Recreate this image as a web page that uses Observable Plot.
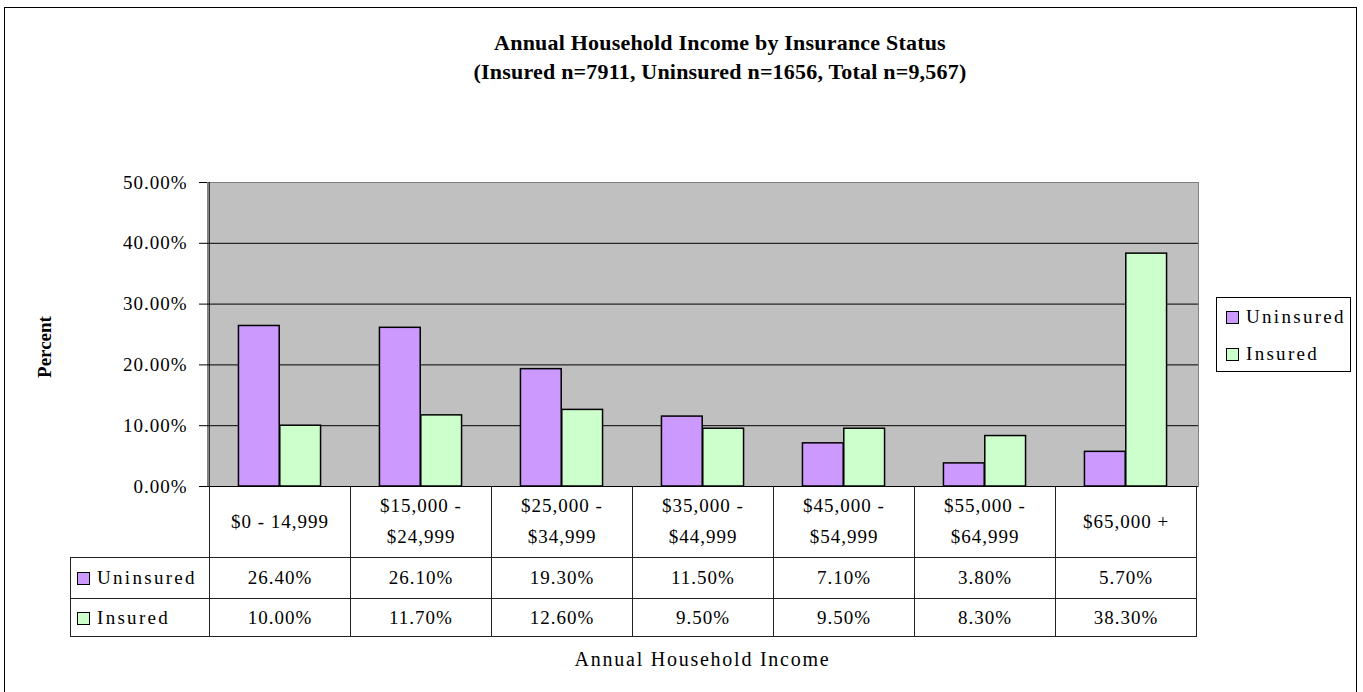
<!DOCTYPE html>
<html><head><meta charset="utf-8">
<script src="https://cdn.jsdelivr.net/npm/d3@7"></script>
<script src="https://cdn.jsdelivr.net/npm/@observablehq/plot@0.6"></script>
<style>
body{margin:0;background:#fff;overflow:hidden;}
#root{position:relative;width:1363px;height:692px;overflow:hidden;font-family:"Liberation Serif","Times New Roman",serif;color:#000;}
#outer{position:absolute;left:4px;top:7px;width:1353px;height:720px;border:1px solid #000;box-sizing:border-box;}
.title{position:absolute;left:220px;width:1000px;text-align:center;font-weight:bold;font-size:22px;line-height:26px;letter-spacing:0.2px;white-space:nowrap;}
#ylab{position:absolute;left:45px;top:347px;transform:translate(-50%,-50%) rotate(-90deg);font-weight:bold;font-size:19px;white-space:nowrap;}
#xlab{position:absolute;left:0;width:1405px;top:648px;text-align:center;font-size:20px;letter-spacing:1.75px;white-space:nowrap;}
#chart{position:absolute;left:0;top:0;}
table.dt{position:absolute;border-collapse:collapse;table-layout:fixed;font-size:19px;letter-spacing:1px;}
table.dt td{padding:0;text-align:center;vertical-align:middle;line-height:31px;}
.sw{display:inline-block;width:11px;height:11px;border:1px solid #000;margin-right:7px;vertical-align:-1px;}
#legend{position:absolute;left:1216px;top:297px;width:135px;height:75px;border:1px solid #000;box-sizing:border-box;font-size:19px;letter-spacing:2.3px;}
#legend .it{position:absolute;left:9px;white-space:nowrap;}
</style></head><body><div id="root"><div id="outer"></div></div>
<script>
const categories = ["$0 - 14,999","$15,000 - $24,999","$25,000 - $34,999","$35,000 - $44,999","$45,000 - $54,999","$55,000 - $64,999","$65,000 +"];
const seriesNames = ["Uninsured","Insured"];
const seriesColors = ["#cc99ff","#ccffcc"];
const uninsured = [26.4, 26.1, 19.3, 11.5, 7.1, 3.8, 5.7];
const insured = [10.0, 11.7, 12.6, 9.5, 9.5, 8.3, 38.3];
const yTicks = [0, 10, 20, 30, 40, 50];
const titleLines = ["Annual Household Income by Insurance Status","(Insured n=7911, Uninsured n=1656, Total n=9,567)"];
const yTitle = "Percent";
const xTitle = "Annual Household Income";

const fmt = d => d.toFixed(2) + "%";
const root = document.getElementById("root");

const W = 1363, H = 500, ML = 207, MR = 165, MT = 182, MB = 14;
const bw = (W - ML - MR) / categories.length;
const barW = bw * 0.292;
const gapOut = (bw - 2 * barW) / 2;

const rows = categories.flatMap((c, i) => [
  {cat: c, series: seriesNames[0], value: uninsured[i]},
  {cat: c, series: seriesNames[1], value: insured[i]}
]);

const chart = Plot.plot({
  width: W, height: H,
  marginLeft: ML, marginRight: MR, marginTop: MT, marginBottom: MB,
  style: {fontFamily: '"Liberation Serif","Times New Roman",serif', fontSize: "19px", background: "transparent", overflow: "visible", letterSpacing: "1px"},
  x: {domain: categories, padding: 0, axis: null},
  y: {domain: [0, 50], ticks: yTicks, tickFormat: fmt, tickSize: 8, tickPadding: 12, label: null},
  color: {domain: seriesNames, range: seriesColors},
  marks: [
    Plot.frame({fill: "#c0c0c0", stroke: "#808080"}),
    Plot.ruleY(yTicks.filter(t => t > 0 && t < 50), {stroke: "#000", strokeWidth: 1}),
    Plot.barY(rows.filter(d => d.series === seriesNames[0]), {x: "cat", y: "value", fill: "series", stroke: "#000", strokeWidth: 1.5, insetLeft: gapOut, insetRight: bw - gapOut - barW}),
    Plot.barY(rows.filter(d => d.series === seriesNames[1]), {x: "cat", y: "value", fill: "series", stroke: "#000", strokeWidth: 1.5, insetLeft: gapOut + barW, insetRight: gapOut}),
    Plot.ruleY([0], {stroke: "#000", strokeWidth: 1}),
    Plot.ruleX([categories[0]], {dx: -bw / 2, stroke: "#000", strokeWidth: 1})
  ]
});
chart.id = "chart";
root.appendChild(chart);

// titles
titleLines.forEach((t, i) => {
  const d = document.createElement("div");
  d.className = "title";
  d.style.top = (i === 0 ? 30 : 59) + "px";
  d.textContent = t;
  root.appendChild(d);
});
const yl = document.createElement("div"); yl.id = "ylab"; yl.textContent = yTitle; root.appendChild(yl);
const xl = document.createElement("div"); xl.id = "xlab"; xl.textContent = xTitle; root.appendChild(xl);

// data table aligned on the plot's x scale
const xs = chart.scale("x");
const y0 = chart.scale("y").apply(0);
const tableLeft = 70;
const table = document.createElement("table");
table.className = "dt";
table.style.left = tableLeft + "px";
table.style.top = y0 + "px";
const cg = document.createElement("colgroup");
const labelW = xs.apply(categories[0]) - tableLeft;
[labelW, ...categories.map(() => xs.bandwidth)].forEach(w => {
  const c = document.createElement("col"); c.style.width = w + "px"; cg.appendChild(c);
});
table.appendChild(cg);
const B = "1px solid #222";
const hr = document.createElement("tr");
hr.style.height = "71px";
const h0 = document.createElement("td"); hr.appendChild(h0);
categories.forEach(c => {
  const td = document.createElement("td");
  td.textContent = c;
  td.style.borderLeft = B; td.style.borderRight = B;
  td.style.padding = "0 18px";
  hr.appendChild(td);
});
table.appendChild(hr);
[[seriesNames[0], uninsured, 41], [seriesNames[1], insured, 38]].forEach(([name, vals, h], k) => {
  const tr = document.createElement("tr");
  tr.style.height = h + "px";
  const lab = document.createElement("td");
  lab.style.textAlign = "left"; lab.style.paddingLeft = "6px";
  lab.style.border = B;
  lab.innerHTML = `<span class="sw" style="background:${seriesColors[k]}"></span>`;
  const sp = document.createElement("span"); sp.textContent = name; sp.style.letterSpacing = "2.3px";
  lab.appendChild(sp);
  tr.appendChild(lab);
  vals.forEach(v => {
    const td = document.createElement("td");
    td.textContent = fmt(v);
    td.style.border = B;
    tr.appendChild(td);
  });
  table.appendChild(tr);
});
root.appendChild(table);

// legend
const lg = document.createElement("div"); lg.id = "legend";
seriesNames.forEach((n, i) => {
  const it = document.createElement("div"); it.className = "it";
  it.style.top = (i === 0 ? 8 : 45) + "px";
  it.innerHTML = `<span class="sw" style="background:${seriesColors[i]}"></span>`;
  const sp = document.createElement("span"); sp.textContent = n; it.appendChild(sp);
  lg.appendChild(it);
});
root.appendChild(lg);
</script></body></html>
